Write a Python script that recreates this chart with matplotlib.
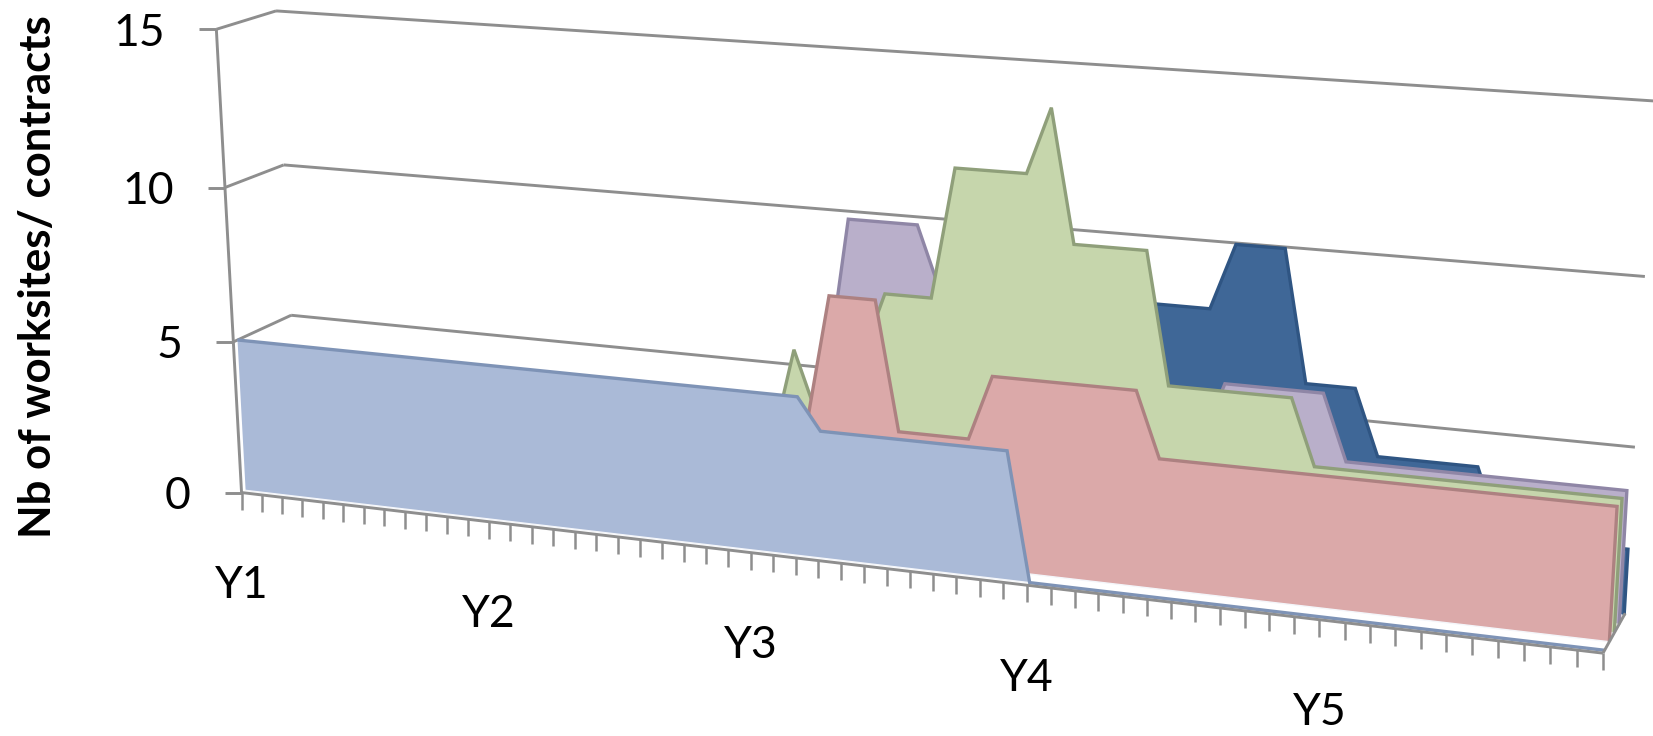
import numpy as np
import matplotlib
matplotlib.use('Agg')
import matplotlib.pyplot as plt

months = list(range(60))
series_a = [5]*27 + [4]*9 + [0]*24
series_b = [0]*26 + [4, 8, 8, 8, 4, 4, 4, 4, 6, 6, 6, 6, 6, 6, 6] + [4]*19
series_c = [0]*24 + [3, 6, 4, 4, 6, 8, 8, 8, 12, 12, 12, 12, 14, 10, 10, 10, 10, 6, 6, 6, 6, 6, 6] + [4]*13
series_d = [0]*26 + [5, 10, 10, 10, 10, 8] + [4]*11 + [6, 6, 6, 6, 6] + [4]*12
series_e = [0]*36 + [8, 8, 8, 8, 8, 8, 8, 10, 10, 10, 6, 6, 6, 4, 4, 4, 4, 4] + [2]*6
year_labels = ['Y1', 'Y2', 'Y3', 'Y4', 'Y5']
year_months = [0, 12, 24, 36, 48]
value_ticks = [0, 5, 10, 15]
y_title = 'Nb of worksites/ contracts'

# camera calibration: (month, value, depth) -> pixel
cal = [((0,0,0),(242,493)),((0,5,0),(234,340)),((0,10,0),(225,188)),((0,15,0),(216,30)),
       ((0,5,1),(291,316)),((0,10,1),(284,165)),((0,15,1),(276,10)),
       ((59,0,1),(1625,613)),((59,5,1),(1635,447)),((59,10,1),(1645,277)),((59,15,1),(1655,101)),
       ((59,0,0),(1603,653)),((12,0,0),(488,522)),((24,0,0),(750,553)),((36,0,0),(1028,585))]
A = []
for (m, v, d), (x, y) in cal:
    p = [m, v, d, 1]
    A.append(p + [0]*4 + [-x*c for c in p])
    A.append([0]*4 + p + [-y*c for c in p])
P = np.linalg.svd(np.array(A, float))[2][-1].reshape(3, 4)

def proj(m, v, d):
    m, v, d = np.broadcast_arrays(np.asarray(m, float), np.asarray(v, float), np.asarray(d, float))
    q = P @ np.vstack([m.ravel(), v.ravel(), d.ravel(), np.ones(m.size)])
    return q[0]/q[2], q[1]/q[2]

W, H = 1653, 736
fig = plt.figure(figsize=(W/100, H/100), dpi=100, facecolor='white')
ax = fig.add_axes([0, 0, 1, 1])
ax.set_xlim(0, W); ax.set_ylim(H, 0); ax.axis('off')
plt.rcParams['font.family'] = ['Lato', 'DejaVu Sans']

GRID = '#8e8e8e'
LW = 2.1
def seg(m, v, d, z=1, lw=LW, c=GRID):
    x, y = proj(m, v, d)
    ax.plot(x, y, color=c, lw=lw, zorder=z, solid_capstyle='butt', solid_joinstyle='miter')

for v in value_ticks[1:]:
    seg([0, 0], [v, v], [0, 1])
    seg([0, 59], [v, v], [1, 1])

styles = [
    (series_e, 0.95, '#3f6797', '#2f5583', 2),
    (series_d, 0.72, '#b9afca', '#8f86a6', 3),
    (series_c, 0.50, '#c6d6ac', '#8f9f7a', 4),
    (series_b, 0.28, '#dba9a9', '#ad8181', 5),
    (series_a, 0.07, '#aabad7', '#7e93b6', 6),
]
mm = np.array(months)
for vals, d, fc, ec, z in styles:
    tx, ty = proj(mm, vals, d)
    bx, by = proj(mm, 0, d)
    ax.fill(np.r_[tx, bx[::-1]], np.r_[ty, by[::-1]], facecolor=fc, edgecolor='none', zorder=z)
    ax.plot(bx, by, color='#f4f6fa', lw=1.0, zorder=z)
    ax.plot(np.r_[tx, bx[-1]], np.r_[ty, by[-1]], color=ec, lw=2.4, zorder=z,
            solid_joinstyle='miter', solid_capstyle='butt')

# walls / axes on top
seg([0, 0], [0, 15], [0, 0], z=7)
seg([59, 59], [0, 0], [0, 1], z=7)
seg([0, 59], [0, 0], [0, 0], z=7)
for v in value_ticks:
    x, y = proj(0, v, 0)
    ax.plot([x[0]-17, x[0]], [y[0], y[0]], color=GRID, lw=LW, zorder=7, solid_capstyle='butt')
    ax.text(x[0]-51, y[0]+4, str(v), ha='right', va='center', fontsize=32, color='black')
tx, ty = proj(mm, 0, 0)
for x, y in zip(tx, ty):
    ax.plot([x, x], [y, y+17], color=GRID, lw=1.8, zorder=7, solid_capstyle='butt')
for lab, m in zip(year_labels, year_months):
    x, y = proj(m, 0, 0)
    ax.text(x[0], y[0]+93, lab, ha='center', va='center', fontsize=32, color='black')
ax.text(38, 277, y_title, rotation=90, ha='center', va='center', fontsize=31.5, fontweight='bold', color='black')

fig.savefig('out.png', dpi=100, facecolor='white')
